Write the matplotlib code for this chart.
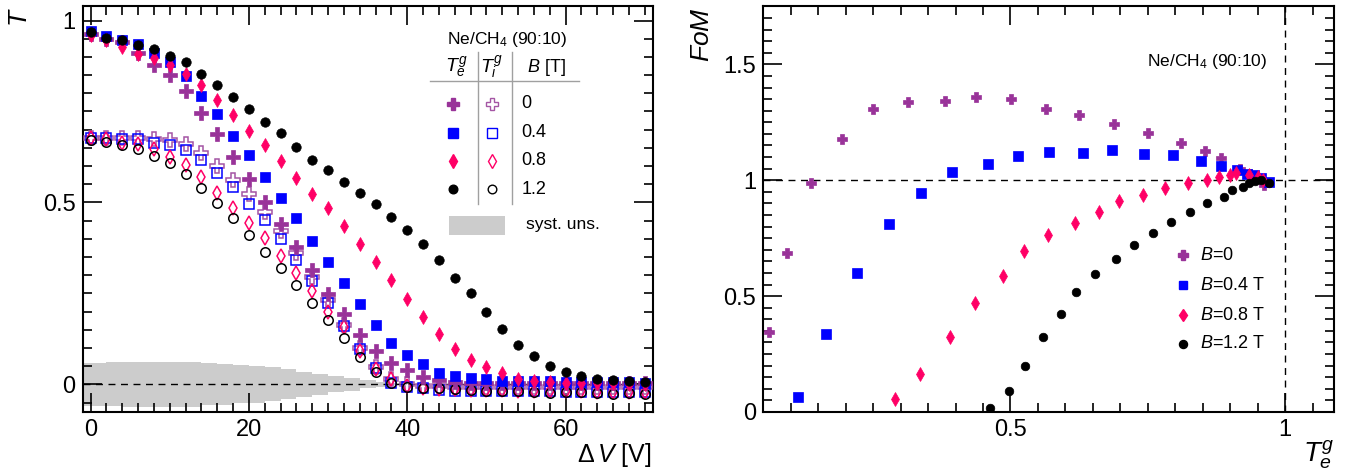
import matplotlib
matplotlib.use('Agg')
import matplotlib.pyplot as plt
import numpy as np
from matplotlib.ticker import MultipleLocator, FuncFormatter
from matplotlib.lines import Line2D
from matplotlib.patches import Rectangle

# ---------------- data ----------------
dV = list(range(0, 72, 2))  # Delta V [V]

# electron transparency T_e^g (filled markers)
Te_B0 = [0.964, 0.950, 0.941, 0.912, 0.877, 0.850, 0.807, 0.747, 0.687, 0.625, 0.564, 0.502,
         0.440, 0.378, 0.314, 0.248, 0.192, 0.135, 0.092, 0.059, 0.039, 0.021, 0.011, 0.006,
         0.005, 0.005, 0.005, 0.005, 0.005, 0.005, 0.005, 0.005, 0.005, 0.005, 0.005, 0.005]
Te_B04 = [0.971, 0.958, 0.947, 0.935, 0.912, 0.886, 0.847, 0.793, 0.743, 0.683, 0.631, 0.570,
          0.513, 0.456, 0.395, 0.337, 0.279, 0.220, 0.163, 0.113, 0.080, 0.055, 0.032, 0.024,
          0.018, 0.014, 0.010, 0.009, 0.008, 0.008, 0.007, 0.007, 0.006, 0.006, 0.006, 0.005]
Te_B08 = [0.960, 0.946, 0.927, 0.907, 0.896, 0.879, 0.852, 0.822, 0.781, 0.740, 0.696, 0.659,
          0.615, 0.566, 0.524, 0.486, 0.435, 0.387, 0.335, 0.287, 0.234, 0.184, 0.138, 0.096,
          0.067, 0.048, 0.030, 0.016, 0.010, 0.006, 0.005, 0.004, 0.003, 0.003, 0.002, 0.002]
Te_B12 = [0.969, 0.953, 0.946, 0.932, 0.921, 0.902, 0.886, 0.854, 0.824, 0.791, 0.757, 0.722,
          0.690, 0.652, 0.616, 0.589, 0.557, 0.525, 0.495, 0.460, 0.424, 0.385, 0.343, 0.293,
          0.250, 0.199, 0.151, 0.108, 0.078, 0.051, 0.034, 0.023, 0.014, 0.011, 0.008, 0.006]

# ion transparency T_i^g (open markers)
Ti_B0 = [0.676, 0.676, 0.676, 0.676, 0.675, 0.671, 0.660, 0.635, 0.600, 0.561, 0.522, 0.474,
         0.421, 0.360, 0.296, 0.232, 0.163, 0.099, 0.048, 0.016, 0.000, -0.004, -0.005, -0.006,
         -0.006, -0.006, -0.006, -0.006, -0.006, -0.006, -0.006, -0.006, -0.006, -0.006, -0.006, -0.006]
Ti_B04 = [0.676, 0.676, 0.675, 0.673, 0.664, 0.657, 0.644, 0.616, 0.581, 0.541, 0.497, 0.451,
          0.399, 0.343, 0.285, 0.224, 0.160, 0.096, 0.044, 0.004, -0.006, -0.011, -0.016, -0.017,
          -0.018, -0.018, -0.018, -0.019, -0.019, -0.019, -0.020, -0.020, -0.020, -0.020, -0.020, -0.020]
Ti_B08 = [0.676, 0.675, 0.662, 0.660, 0.646, 0.625, 0.602, 0.569, 0.526, 0.486, 0.444, 0.403,
          0.352, 0.305, 0.256, 0.199, 0.157, 0.092, 0.041, 0.014, -0.004, -0.010, -0.012, -0.014,
          -0.015, -0.016, -0.016, -0.017, -0.018, -0.018, -0.019, -0.019, -0.020, -0.020, -0.020, -0.021]
Ti_B12 = [0.671, 0.667, 0.659, 0.646, 0.627, 0.607, 0.578, 0.540, 0.499, 0.456, 0.410, 0.364,
          0.319, 0.272, 0.224, 0.177, 0.128, 0.076, 0.033, 0.005, -0.007, -0.011, -0.011, -0.014,
          -0.016, -0.017, -0.017, -0.019, -0.022, -0.025, -0.020, -0.022, -0.025, -0.027, -0.025, -0.027]

# systematic uncertainty band (half width per 2 V bin, starting at bin edges)
syst_edges = [-1, 0, 2, 4, 6, 8, 10, 12, 14, 16, 18, 20, 22, 24, 26, 28, 30, 32, 34, 36, 38, 40, 71]
syst_half = [0.059, 0.059, 0.060, 0.061, 0.062, 0.062, 0.062, 0.061, 0.058, 0.056, 0.052, 0.050,
             0.047, 0.041, 0.034, 0.028, 0.022, 0.017, 0.011, 0.007, 0.003, 0.0, 0.0]

# figure of merit vs T_e^g
fom_te_B0 = [0.061, 0.093, 0.137, 0.193, 0.249, 0.314, 0.380, 0.438, 0.501, 0.565, 0.625, 0.688,
             0.750, 0.810, 0.854, 0.883, 0.917, 0.937, 0.950, 0.962]
fom_B0 = [0.347, 0.687, 0.988, 1.180, 1.306, 1.338, 1.342, 1.360, 1.349, 1.308, 1.281, 1.242,
          1.205, 1.162, 1.126, 1.094, 1.047, 1.025, 1.010, 0.978]
fom_te_B04 = [0.113, 0.164, 0.220, 0.279, 0.337, 0.394, 0.459, 0.513, 0.571, 0.632, 0.684, 0.743,
              0.795, 0.847, 0.884, 0.912, 0.931, 0.943, 0.956, 0.971]
fom_B04 = [0.063, 0.335, 0.599, 0.810, 0.945, 1.036, 1.072, 1.104, 1.121, 1.118, 1.130, 1.114,
           1.107, 1.084, 1.062, 1.043, 1.029, 1.022, 1.010, 0.993]
fom_te_B08 = [0.289, 0.336, 0.389, 0.436, 0.486, 0.524, 0.569, 0.618, 0.661, 0.697, 0.742, 0.781,
              0.824, 0.857, 0.880, 0.899, 0.911, 0.934, 0.951, 0.960]
fom_B08 = [0.056, 0.164, 0.322, 0.471, 0.585, 0.693, 0.762, 0.817, 0.865, 0.911, 0.935, 0.966,
           0.987, 1.003, 1.014, 1.022, 1.030, 1.022, 1.014, 1.000]
fom_te_B12 = [0.462, 0.497, 0.526, 0.559, 0.592, 0.620, 0.654, 0.692, 0.725, 0.759, 0.793, 0.826,
              0.857, 0.889, 0.904, 0.924, 0.934, 0.946, 0.956, 0.971]
fom_B12 = [0.016, 0.089, 0.200, 0.323, 0.424, 0.516, 0.594, 0.658, 0.719, 0.772, 0.820, 0.862,
           0.902, 0.929, 0.957, 0.971, 0.988, 0.997, 1.000, 0.990]

B_labels = ['0', '0.4', '0.8', '1.2']
B_legend = ['$B$=0', '$B$=0.4 T', '$B$=0.8 T', '$B$=1.2 T']

# ---------------- style ----------------
plt.rcParams['font.family'] = ['Liberation Sans', 'DejaVu Sans']
plt.rcParams['mathtext.fontset'] = 'custom'
plt.rcParams['mathtext.rm'] = 'Liberation Sans'
plt.rcParams['mathtext.it'] = 'Liberation Sans:italic'
plt.rcParams['mathtext.bf'] = 'Liberation Sans:bold'

PURPLE = '#993399'
PURPLE_OPEN = '#A455A4'
BLUE = '#0000FF'
RED = '#FF0066'
BLACK = '#000000'

colors = [PURPLE, BLUE, RED, BLACK]
open_colors = [PURPLE_OPEN, BLUE, RED, BLACK]
markers = ['P', 's', 'd', 'o']
ms_left = [9.4, 7.2, 7.3, 6.8]
ms_right = [7.6, 6.7, 6.8, 6.2]

fig = plt.figure(figsize=(13.51, 4.76), dpi=100)
ax1 = fig.add_axes([0.0612, 0.1345, 0.4219, 0.853])
ax2 = fig.add_axes([0.565, 0.1345, 0.4224, 0.852])

fmt = FuncFormatter(lambda v, p: f'{v:g}')

for ax in (ax1, ax2):
    for sp in ax.spines.values():
        sp.set_linewidth(1.5)
    ax.tick_params(which='both', direction='in', top=True, right=True, width=1.2)
    ax.tick_params(which='major', length=13.5, labelsize=17, pad=5)
    ax.tick_params(which='minor', length=6.5)
    ax.xaxis.set_major_formatter(fmt)
    ax.yaxis.set_major_formatter(fmt)

# ---------------- left panel ----------------
ax1.set_xlim(-1, 71)
ax1.set_ylim(-0.076, 1.04)
ax1.xaxis.set_major_locator(MultipleLocator(20))
ax1.xaxis.set_minor_locator(MultipleLocator(2))
ax1.yaxis.set_major_locator(MultipleLocator(0.5))
ax1.yaxis.set_minor_locator(MultipleLocator(0.05))

se = np.array(syst_edges, dtype=float)
sh = np.array(syst_half)
ax1.fill_between(se, -sh, sh, step='post', color='#CCCCCC', lw=0, zorder=1)
ax1.axhline(0, color='black', lw=1.0, ls=(0, (5, 4)), zorder=2)

Ti_all = [Ti_B0, Ti_B04, Ti_B08, Ti_B12]
Te_all = [Te_B0, Te_B04, Te_B08, Te_B12]
for i in range(4):
    ax1.plot(dV, Ti_all[i], ls='none', marker=markers[i], ms=ms_left[i],
             mfc='none', mec=open_colors[i], mew=1.1, zorder=3)
for i in range(4):
    ax1.plot(dV, Te_all[i], ls='none', marker=markers[i], ms=ms_left[i],
             mfc=colors[i], mec=colors[i], mew=0.5, zorder=4)

# legend (table style)
t1 = ax1.transAxes
ax1.text(0.640, 0.918, 'Ne/CH$_4$ (90:10)', transform=t1, fontsize=12.5, ha='left', va='center')
ax1.text(0.655, 0.848, '$T_{e}^{g}$', transform=t1, fontsize=14, ha='center', va='center')
ax1.text(0.7175, 0.848, '$T_{i}^{g}$', transform=t1, fontsize=14, ha='center', va='center')
ax1.text(0.813, 0.848, '$B$ [T]', transform=t1, fontsize=13, ha='center', va='center')
ax1.add_line(Line2D([0.609, 0.871], [0.815, 0.815], transform=t1, color='#A0A0A0', lw=1.0))
ax1.add_line(Line2D([0.694, 0.694], [0.512, 0.887], transform=t1, color='#A0A0A0', lw=1.0))
ax1.add_line(Line2D([0.754, 0.754], [0.512, 0.887], transform=t1, color='#A0A0A0', lw=1.0))
rows_y = [0.759, 0.688, 0.619, 0.549]
leg_ms = [8.6, 6.8, 6.8, 6.2]
for i in range(4):
    ax1.plot([0.650], [rows_y[i]], transform=t1, ls='none', marker=markers[i], ms=leg_ms[i],
             mfc=colors[i], mec=colors[i], clip_on=False)
    ax1.plot([0.7175], [rows_y[i]], transform=t1, ls='none', marker=markers[i], ms=leg_ms[i],
             mfc='none', mec=open_colors[i], mew=1.0, clip_on=False)
    ax1.text(0.770, rows_y[i], B_labels[i], transform=t1, fontsize=13, ha='left', va='center')
ax1.add_patch(Rectangle((0.643, 0.436), 0.098, 0.0475, transform=t1, color='#CCCCCC', lw=0))
ax1.text(0.777, 0.461, 'syst. uns.', transform=t1, fontsize=12.5, ha='left', va='center')

fig.text(0.4824, 0.044, r'$\Delta\,V$ [V]', fontsize=18, ha='right', va='center')
fig.text(0.0148, 0.985, '$T$', fontsize=19, rotation=90, ha='center', va='top')

# ---------------- right panel ----------------
ax2.set_xlim(0.05, 1.089)
ax2.set_ylim(0, 1.75)
ax2.xaxis.set_major_locator(MultipleLocator(0.5))
ax2.xaxis.set_minor_locator(MultipleLocator(0.05))
ax2.yaxis.set_major_locator(MultipleLocator(0.5))
ax2.yaxis.set_minor_locator(MultipleLocator(0.05))
ax2.set_yticks([0, 0.5, 1, 1.5])

ax2.axhline(1, color='black', lw=1.0, ls=(0, (5, 4)), zorder=2)
ax2.axvline(1, color='black', lw=1.0, ls=(0, (5, 4)), zorder=2)

fx_all = [fom_te_B0, fom_te_B04, fom_te_B08, fom_te_B12]
fy_all = [fom_B0, fom_B04, fom_B08, fom_B12]
for i in range(4):
    ax2.plot(fx_all[i], fy_all[i], ls='none', marker=markers[i], ms=ms_right[i],
             mfc=colors[i], mec=colors[i], mew=0.5, zorder=4)

t2 = ax2.transAxes
ax2.text(0.672, 0.864, 'Ne/CH$_4$ (90:10)', transform=t2, fontsize=12.5, ha='left', va='center')
leg_y = [0.387, 0.313, 0.239, 0.168]
for i in range(4):
    ax2.plot([0.736], [leg_y[i]], transform=t2, ls='none', marker=markers[i], ms=ms_right[i] - 0.4,
             mfc=colors[i], mec=colors[i], clip_on=False)
    ax2.text(0.765, leg_y[i], B_legend[i], transform=t2, fontsize=13, ha='left', va='center')

fig.text(0.9874, 0.044, '$T_{e}^{g}$', fontsize=20, ha='right', va='center')
fig.text(0.5194, 0.985, '$FoM$', fontsize=19, rotation=90, ha='center', va='top')

fig.savefig('out.png', dpi=100)
